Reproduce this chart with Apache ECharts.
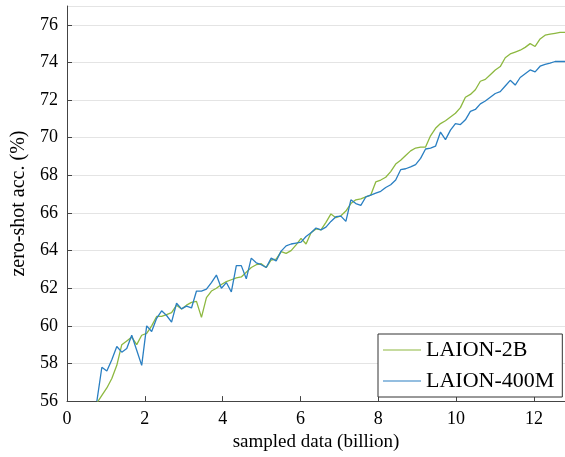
<!DOCTYPE html>
<html>
<head>
<meta charset="utf-8">
<script src="https://cdn.jsdelivr.net/npm/echarts@6/dist/echarts.min.js"></script>
<style>
  html, body { margin: 0; padding: 0; background: #ffffff; }
  #chart { width: 565px; height: 457px; }
</style>
</head>
<body>
<div id="chart"></div>
<script>
// Amount of data seen at each checkpoint (billion samples)
const sampled = [
  0.768, 0.896, 1.024, 1.152, 1.28, 1.408, 1.536, 1.664, 1.792, 1.92,
  2.048, 2.176, 2.304, 2.432, 2.56, 2.688, 2.816, 2.944, 3.072, 3.2,
  3.328, 3.456, 3.584, 3.712, 3.84, 3.968, 4.096, 4.224, 4.352, 4.48,
  4.608, 4.736, 4.864, 4.992, 5.12, 5.248, 5.376, 5.504, 5.632, 5.76,
  5.888, 6.016, 6.144, 6.272, 6.4, 6.528, 6.656, 6.784, 6.912, 7.04,
  7.168, 7.296, 7.424, 7.552, 7.68, 7.808, 7.936, 8.064, 8.192, 8.32,
  8.448, 8.576, 8.704, 8.832, 8.96, 9.088, 9.216, 9.344, 9.472, 9.6,
  9.728, 9.856, 9.984, 10.112, 10.24, 10.368, 10.496, 10.624, 10.752, 10.88,
  11.008, 11.136, 11.264, 11.392, 11.52, 11.648, 11.776, 11.904, 12.032, 12.16,
  12.288, 12.416, 12.544, 12.672, 12.8
];

// Zero-shot accuracy (%) when training on LAION-2B
const laion2b = [
  55.9, 56.3, 56.7, 57.2, 57.9, 59.0, 59.2, 59.4, 59.0, 59.5,
  59.6, 60.0, 60.5, 60.5, 60.6, 60.7, 61.1, 60.9, 61.1, 61.25,
  61.3, 60.45, 61.5, 61.85, 62.0, 62.2, 62.35, 62.45, 62.55, 62.6,
  62.85, 63.1, 63.25, 63.3, 63.1, 63.5, 63.55, 63.95, 63.85, 64.0,
  64.3, 64.65, 64.35, 64.95, 65.15, 65.1, 65.5, 65.95, 65.75, 65.85,
  66.1, 66.5, 66.7, 66.75, 66.85, 66.95, 67.65, 67.75, 67.9, 68.2,
  68.6, 68.8, 69.05, 69.3, 69.45, 69.5, 69.5, 70.1, 70.5, 70.75,
  70.9, 71.1, 71.3, 71.6, 72.15, 72.3, 72.55, 73.0, 73.1, 73.35,
  73.6, 73.78, 74.25, 74.45, 74.55, 74.65, 74.8, 75.0, 74.85, 75.25,
  75.45, 75.5, 75.55, 75.6, 75.6
];

// Zero-shot accuracy (%) when training on LAION-400M
const laion400m = [
  56.0, 57.8, 57.6, 58.2, 58.9, 58.6, 58.8, 59.5, 58.7, 57.9,
  60.0, 59.7, 60.4, 60.8, 60.55, 60.2, 61.2, 60.9, 61.05, 60.95,
  61.85, 61.85, 61.95, 62.3, 62.7, 62.0, 62.3, 61.8, 63.2, 63.2,
  62.5, 63.6, 63.35, 63.25, 63.1, 63.6, 63.45, 63.97, 64.25, 64.35,
  64.4, 64.45, 64.75, 64.95, 65.2, 65.1, 65.25, 65.55, 65.8, 65.83,
  65.55, 66.7, 66.5, 66.4, 66.85, 66.95, 67.05, 67.15, 67.35, 67.5,
  67.75, 68.3, 68.35, 68.45, 68.57, 68.9, 69.4, 69.45, 69.55, 70.3,
  69.9, 70.4, 70.75, 70.7, 70.95, 71.4, 71.5, 71.8, 71.95, 72.15,
  72.35, 72.45, 72.75, 73.05, 72.8, 73.2, 73.4, 73.6, 73.5, 73.8,
  73.9, 73.97, 74.05, 74.05, 74.05
];

const seriesNames = ['LAION-2B', 'LAION-400M'];
const seriesColors = ['#8db840', '#2a7fc2'];

const serif = 'Liberation Serif, Times New Roman, serif';

function pairs(xs, ys) {
  return xs.map((x, i) => [x, ys[i]]);
}

const chart = echarts.init(document.getElementById('chart'), null, { renderer: 'canvas' });

chart.setOption({
  animation: false,
  backgroundColor: '#ffffff',
  grid: { left: 67, right: -1, top: 6, bottom: 55 },
  legend: {
    data: seriesNames,
    orient: 'vertical',
    left: 378,
    top: 334,
    padding: [2, 8, 2, 5],
    itemGap: 3,
    itemWidth: 38,
    itemHeight: 10,
    backgroundColor: '#ffffff',
    borderColor: '#333333',
    borderWidth: 1,
    borderRadius: 0,
    icon: 'path://M0,5 L38,5 L38,6.2 L0,6.2 Z',
    textStyle: { fontFamily: serif, fontSize: 22, lineHeight: 26, color: '#000000', padding: [2, 0, 0, 0] }
  },
  xAxis: {
    type: 'value',
    min: 0,
    max: 12.8,
    interval: 2,
    name: 'sampled data (billion)',
    nameLocation: 'middle',
    nameGap: 31,
    nameTextStyle: { fontFamily: serif, fontSize: 19, color: '#000000' },
    axisLine: { show: true, onZero: false, lineStyle: { color: '#444444', width: 1 } },
    axisTick: { show: true, inside: true, length: 5, lineStyle: { color: '#444444' } },
    axisLabel: {
      fontFamily: serif, fontSize: 18, color: '#000000', margin: 9,
      showMaxLabel: false,
      formatter: v => (v % 2 === 0 ? String(v) : '')
    },
    splitLine: { show: false }
  },
  yAxis: {
    type: 'value',
    min: 56,
    max: 77,
    interval: 2,
    name: 'zero-shot acc. (%)',
    nameLocation: 'middle',
    nameGap: 38,
    nameRotate: 90,
    nameTextStyle: { fontFamily: serif, fontSize: 20, color: '#000000' },
    axisLine: { show: true, onZero: false, lineStyle: { color: '#444444', width: 1 } },
    axisTick: { show: true, inside: true, length: 5, lineStyle: { color: '#444444' } },
    axisLabel: {
      fontFamily: serif, fontSize: 18, color: '#000000', margin: 9,
      showMaxLabel: false,
      formatter: v => (v % 2 === 0 ? String(v) : '')
    },
    splitLine: { show: true, lineStyle: { color: '#e4e4e4', width: 1 } }
  },
  series: [
    {
      name: seriesNames[0],
      type: 'line',
      data: pairs(sampled, laion2b),
      showSymbol: false,
      symbol: 'none',
      clip: true,
      color: seriesColors[0],
      lineStyle: { color: seriesColors[0], width: 1.3 }
    },
    {
      name: seriesNames[1],
      type: 'line',
      data: pairs(sampled, laion400m),
      showSymbol: false,
      symbol: 'none',
      clip: true,
      color: seriesColors[1],
      lineStyle: { color: seriesColors[1], width: 1.3 }
    }
  ]
});
</script>
</body>
</html>
